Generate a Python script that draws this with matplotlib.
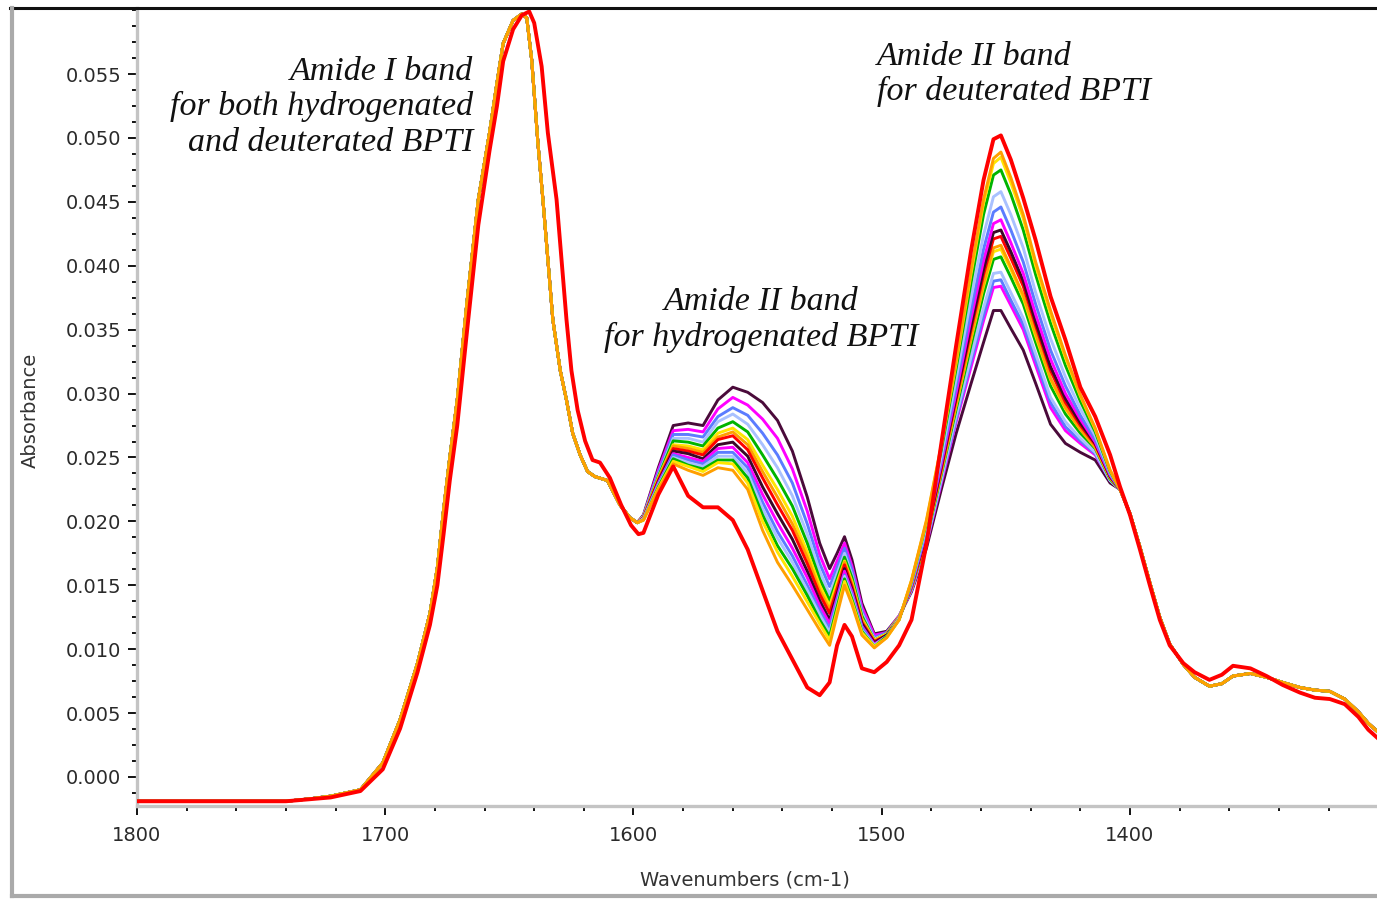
import matplotlib
matplotlib.use("Agg")
import matplotlib.pyplot as plt
from matplotlib.lines import Line2D
from matplotlib.ticker import MultipleLocator, FixedLocator, FormatStrFormatter

# ---------------------------------------------------------------- data
# Amide I region (1800-1598 cm-1): all exchange scans overlap here
wn_high = [1800, 1760, 1740, 1730, 1722, 1710, 1701, 1694, 1687, 1682, 1679, 1676.5,
           1674, 1671, 1667, 1662.5, 1658, 1655, 1652.5, 1648.5, 1645, 1643, 1641,
           1639.5, 1638.5, 1636.5, 1634.5, 1632.5, 1629.5, 1627, 1624.5, 1621.5,
           1618.5, 1615.5, 1610.5, 1605.5, 1601.5, 1598.5]
abs_high_common = [-0.0019, -0.0019, -0.0019, -0.0017, -0.0015, -0.0010, 0.0011, 0.0045,
                   0.0089, 0.0128, 0.0164, 0.0209, 0.0250, 0.0295, 0.0373, 0.0452, 0.0504,
                   0.0543, 0.0574, 0.0592, 0.0597, 0.0594, 0.0561, 0.0522, 0.0496, 0.0452,
                   0.0405, 0.0358, 0.0318, 0.0295, 0.0269, 0.0252, 0.0239, 0.0235, 0.0232,
                   0.0213, 0.0203, 0.0199]

# final (deuterated) scan, amide I slightly shifted
wn_high_final = [1800, 1760, 1740, 1722, 1710, 1701, 1694, 1687, 1682, 1679, 1676.5, 1674,
                 1671, 1667, 1662.5, 1658, 1655, 1652.5, 1648.5, 1645, 1642, 1640, 1637,
                 1634.5, 1631, 1629, 1627, 1625, 1622.5, 1619.5, 1616.5, 1613.5, 1609.5,
                 1605, 1601, 1598]
abs_high_final = [-0.0019, -0.0019, -0.0019, -0.0016, -0.0011, 0.0006, 0.0038, 0.0082,
                  0.0119, 0.0150, 0.0190, 0.0232, 0.0275, 0.0350, 0.0432, 0.0490, 0.0525,
                  0.0560, 0.0585, 0.0596, 0.0599, 0.0590, 0.0556, 0.0504, 0.0452, 0.0405,
                  0.0358, 0.0318, 0.0287, 0.0263, 0.0248, 0.0246, 0.0234, 0.0213, 0.0197,
                  0.0190]

# Amide II / amide II' region (1596-1408 cm-1): scans separate here
wn_mid = [1596, 1590, 1584, 1578, 1572, 1566, 1560, 1554, 1548, 1542, 1536, 1530, 1525,
          1521, 1518, 1515, 1512, 1508, 1503, 1498, 1493, 1488, 1482, 1476, 1470, 1464,
          1459, 1455, 1452, 1448, 1443, 1438, 1432, 1426, 1420, 1414, 1408]

scan_01 = [0.0205, 0.0242, 0.0275, 0.0277, 0.0275, 0.0295, 0.0305, 0.0301, 0.0293, 0.0279,
           0.0255, 0.0219, 0.0183, 0.0163, 0.0175, 0.0188, 0.0170, 0.0136, 0.0112, 0.0114,
           0.0126, 0.0145, 0.0179, 0.0225, 0.0269, 0.0308, 0.0340, 0.0365, 0.0365, 0.0351,
           0.0334, 0.0308, 0.0276, 0.0261, 0.0254, 0.0248, 0.0230]
scan_02 = [0.0204, 0.0240, 0.0271, 0.0272, 0.0270, 0.0288, 0.0297, 0.0291, 0.0280, 0.0265,
           0.0241, 0.0208, 0.0174, 0.0155, 0.0169, 0.0183, 0.0165, 0.0133, 0.0111, 0.0113,
           0.0126, 0.0146, 0.0182, 0.0230, 0.0278, 0.0321, 0.0357, 0.0383, 0.0384, 0.0369,
           0.0350, 0.0322, 0.0289, 0.0271, 0.0261, 0.0252, 0.0232]
scan_03 = [0.0204, 0.0238, 0.0268, 0.0268, 0.0266, 0.0282, 0.0289, 0.0283, 0.0269, 0.0252,
           0.0230, 0.0198, 0.0167, 0.0149, 0.0164, 0.0179, 0.0162, 0.0130, 0.0109, 0.0113,
           0.0125, 0.0147, 0.0183, 0.0232, 0.0280, 0.0325, 0.0361, 0.0388, 0.0389, 0.0373,
           0.0354, 0.0326, 0.0293, 0.0274, 0.0263, 0.0253, 0.0232]
scan_04 = [0.0204, 0.0236, 0.0265, 0.0265, 0.0262, 0.0278, 0.0284, 0.0276, 0.0260, 0.0242,
           0.0220, 0.0190, 0.0161, 0.0143, 0.0159, 0.0175, 0.0158, 0.0128, 0.0108, 0.0112,
           0.0125, 0.0147, 0.0184, 0.0233, 0.0283, 0.0329, 0.0367, 0.0394, 0.0395, 0.0379,
           0.0359, 0.0331, 0.0297, 0.0278, 0.0265, 0.0254, 0.0232]
scan_05 = [0.0203, 0.0235, 0.0263, 0.0262, 0.0259, 0.0273, 0.0278, 0.0270, 0.0252, 0.0233,
           0.0212, 0.0183, 0.0155, 0.0138, 0.0155, 0.0172, 0.0156, 0.0126, 0.0107, 0.0112,
           0.0125, 0.0148, 0.0186, 0.0237, 0.0288, 0.0338, 0.0378, 0.0405, 0.0407, 0.0391,
           0.0370, 0.0340, 0.0306, 0.0284, 0.0269, 0.0257, 0.0233]
scan_06 = [0.0203, 0.0234, 0.0260, 0.0259, 0.0256, 0.0269, 0.0273, 0.0264, 0.0244, 0.0225,
           0.0204, 0.0176, 0.0150, 0.0134, 0.0152, 0.0169, 0.0153, 0.0124, 0.0107, 0.0112,
           0.0125, 0.0149, 0.0188, 0.0239, 0.0291, 0.0343, 0.0384, 0.0411, 0.0413, 0.0397,
           0.0375, 0.0345, 0.0311, 0.0288, 0.0272, 0.0258, 0.0234]
scan_07 = [0.0203, 0.0233, 0.0259, 0.0257, 0.0254, 0.0266, 0.0270, 0.0260, 0.0239, 0.0219,
           0.0198, 0.0172, 0.0146, 0.0131, 0.0149, 0.0168, 0.0151, 0.0123, 0.0106, 0.0111,
           0.0124, 0.0149, 0.0188, 0.0239, 0.0292, 0.0344, 0.0386, 0.0414, 0.0416, 0.0399,
           0.0377, 0.0347, 0.0312, 0.0289, 0.0272, 0.0258, 0.0234]
scan_08 = [0.0203, 0.0232, 0.0257, 0.0255, 0.0252, 0.0264, 0.0267, 0.0256, 0.0234, 0.0213,
           0.0193, 0.0167, 0.0143, 0.0128, 0.0147, 0.0166, 0.0149, 0.0121, 0.0106, 0.0111,
           0.0124, 0.0149, 0.0189, 0.0241, 0.0296, 0.0350, 0.0393, 0.0421, 0.0423, 0.0406,
           0.0384, 0.0353, 0.0318, 0.0293, 0.0275, 0.0260, 0.0235]
scan_09 = [0.0202, 0.0231, 0.0255, 0.0253, 0.0249, 0.0260, 0.0262, 0.0251, 0.0227, 0.0206,
           0.0186, 0.0161, 0.0138, 0.0123, 0.0143, 0.0163, 0.0147, 0.0120, 0.0105, 0.0111,
           0.0124, 0.0150, 0.0190, 0.0243, 0.0298, 0.0353, 0.0397, 0.0426, 0.0428, 0.0411,
           0.0388, 0.0356, 0.0321, 0.0296, 0.0277, 0.0261, 0.0235]
scan_10 = [0.0202, 0.0230, 0.0253, 0.0250, 0.0247, 0.0257, 0.0258, 0.0246, 0.0221, 0.0199,
           0.0179, 0.0156, 0.0134, 0.0120, 0.0140, 0.0161, 0.0145, 0.0118, 0.0104, 0.0110,
           0.0124, 0.0150, 0.0192, 0.0245, 0.0301, 0.0359, 0.0404, 0.0433, 0.0436, 0.0418,
           0.0394, 0.0362, 0.0327, 0.0300, 0.0280, 0.0262, 0.0236]
scan_11 = [0.0202, 0.0229, 0.0252, 0.0248, 0.0245, 0.0254, 0.0254, 0.0242, 0.0215, 0.0192,
           0.0173, 0.0150, 0.0130, 0.0116, 0.0138, 0.0158, 0.0143, 0.0117, 0.0103, 0.0110,
           0.0124, 0.0151, 0.0193, 0.0248, 0.0306, 0.0366, 0.0413, 0.0442, 0.0446, 0.0428,
           0.0403, 0.0370, 0.0334, 0.0306, 0.0283, 0.0264, 0.0237]
scan_12 = [0.0202, 0.0228, 0.0250, 0.0246, 0.0243, 0.0251, 0.0251, 0.0238, 0.0210, 0.0187,
           0.0168, 0.0146, 0.0127, 0.0113, 0.0135, 0.0157, 0.0141, 0.0115, 0.0103, 0.0110,
           0.0124, 0.0152, 0.0196, 0.0251, 0.0312, 0.0375, 0.0424, 0.0454, 0.0458, 0.0440,
           0.0414, 0.0379, 0.0343, 0.0313, 0.0288, 0.0267, 0.0238]
scan_13 = [0.0201, 0.0227, 0.0249, 0.0244, 0.0241, 0.0248, 0.0248, 0.0234, 0.0205, 0.0181,
           0.0163, 0.0142, 0.0123, 0.0110, 0.0133, 0.0155, 0.0139, 0.0114, 0.0102, 0.0110,
           0.0123, 0.0153, 0.0199, 0.0256, 0.0320, 0.0387, 0.0440, 0.0471, 0.0475, 0.0456,
           0.0428, 0.0393, 0.0355, 0.0322, 0.0294, 0.0270, 0.0239]
scan_14 = [0.0201, 0.0226, 0.0247, 0.0243, 0.0239, 0.0246, 0.0245, 0.0230, 0.0200, 0.0176,
           0.0157, 0.0137, 0.0120, 0.0107, 0.0130, 0.0153, 0.0137, 0.0113, 0.0102, 0.0109,
           0.0123, 0.0154, 0.0200, 0.0259, 0.0324, 0.0394, 0.0449, 0.0480, 0.0485, 0.0465,
           0.0437, 0.0400, 0.0362, 0.0328, 0.0298, 0.0272, 0.0240]
scan_15 = [0.0201, 0.0225, 0.0245, 0.0240, 0.0236, 0.0242, 0.0240, 0.0225, 0.0193, 0.0168,
           0.0150, 0.0131, 0.0115, 0.0103, 0.0127, 0.0150, 0.0135, 0.0111, 0.0101, 0.0109,
           0.0123, 0.0154, 0.0201, 0.0260, 0.0326, 0.0397, 0.0452, 0.0484, 0.0489, 0.0469,
           0.0440, 0.0403, 0.0365, 0.0330, 0.0299, 0.0273, 0.0240]
scan_final = [0.0191, 0.0221, 0.0243, 0.0220, 0.0211, 0.0211, 0.0201, 0.0178, 0.0146, 0.0114,
              0.0092, 0.0070, 0.0064, 0.0074, 0.0103, 0.0119, 0.0110, 0.0085, 0.0082, 0.0090,
              0.0103, 0.0123, 0.0182, 0.0261, 0.0338, 0.0412, 0.0467, 0.0499, 0.0502, 0.0483,
              0.0453, 0.0420, 0.0376, 0.0342, 0.0305, 0.0282, 0.0252]

# Low-wavenumber tail (1404-1300 cm-1)
wn_low = [1404, 1400, 1396, 1392, 1388, 1384, 1378.5, 1374, 1368, 1363, 1358.5, 1351.5,
          1345, 1338.5, 1331.5, 1325.5, 1319.5, 1313.5, 1308, 1304, 1300]
abs_low_common = [0.0225, 0.0206, 0.0180, 0.0152, 0.0125, 0.0104, 0.0088, 0.0078, 0.0071,
                  0.0073, 0.0079, 0.0081, 0.0078, 0.0074, 0.0070, 0.0068, 0.0067, 0.0061,
                  0.0051, 0.0042, 0.0035]
abs_low_final = [0.0227, 0.0205, 0.0178, 0.0150, 0.0123, 0.0103, 0.0089, 0.0082, 0.0076,
                 0.0080, 0.0087, 0.0085, 0.0079, 0.0072, 0.0066, 0.0062, 0.0061, 0.0057,
                 0.0047, 0.0037, 0.0030]

scan_colors = ["#4a0a3a", "#ff00ff", "#5b7cff", "#a9c1ff", "#00b400", "#ffe600",
               "#ff9f00", "#ff0000", "#3a0828", "#ff00ff", "#5b7cff", "#a9c1ff",
               "#00b400", "#ffe600", "#ff9f00"]
final_color = "#ff0000"

x_ticks = [1800, 1700, 1600, 1500, 1400]
y_ticks = [0.000, 0.005, 0.010, 0.015, 0.020, 0.025, 0.030, 0.035, 0.040, 0.045, 0.050, 0.055]

# ---------------------------------------------------------------- figure
W, H = 1377, 899
fig = plt.figure(figsize=(W / 100, H / 100), dpi=100)
fig.patch.set_facecolor("white")

def fx(px):
    return px / W

def fy(py):
    return 1 - py / H

ax = fig.add_axes([fx(137), fy(806), fx(W - 137), (806 - 8) / H])

scans = [scan_01, scan_02, scan_03, scan_04, scan_05, scan_06, scan_07, scan_08,
         scan_09, scan_10, scan_11, scan_12, scan_13, scan_14, scan_15]
for i, (mid, col) in enumerate(zip(scans, scan_colors)):
    ax.plot(wn_high + wn_mid + wn_low, abs_high_common + mid + abs_low_common,
            color=col, lw=2.1, solid_joinstyle="round", zorder=2 + i)
ax.plot(wn_high_final + wn_mid + wn_low, abs_high_final + scan_final + abs_low_final,
        color=final_color, lw=2.8, solid_joinstyle="round", zorder=20)

ax.set_xlim(1800, 1300.5)
ax.set_ylim(-0.00227, 0.06017)

ax.xaxis.set_major_locator(FixedLocator(x_ticks))
ax.xaxis.set_minor_locator(MultipleLocator(20))
ax.yaxis.set_major_locator(FixedLocator(y_ticks))
ax.yaxis.set_minor_locator(MultipleLocator(0.00125))
ax.xaxis.set_major_formatter(FormatStrFormatter("%d"))
ax.yaxis.set_major_formatter(FormatStrFormatter("%.3f"))

for side in ("top", "right"):
    ax.spines[side].set_visible(False)
for side in ("left", "bottom"):
    ax.spines[side].set_color("#c4c4c4")
    ax.spines[side].set_linewidth(2.4)

ax.tick_params(axis="both", which="major", direction="out", length=6.5, width=1.3,
               color="black", labelsize=14, labelcolor="#2a2a2a")
ax.tick_params(axis="both", which="minor", direction="out", length=3.5, width=1.3,
               color="black")
ax.tick_params(axis="y", which="major", pad=5)
ax.tick_params(axis="x", which="major", pad=8)

# axis titles
fig.text(fx(30), fy(410), "Absorbance", rotation=90, ha="center", va="center",
         fontsize=14, color="#333333")
fig.text(fx(745), fy(880), "Wavenumbers (cm-1)", ha="center", va="center",
         fontsize=14, color="#333333")

# band annotations
note_style = dict(family="Liberation Serif", style="italic", fontsize=24.5, color="#111111",
                  va="baseline")
for text, base in [("Amide I band", 80), ("for both hydrogenated", 115),
                   ("and deuterated BPTI", 151)]:
    fig.text(fx(473), fy(base), text, ha="right", **note_style)
for text, base in [("Amide II band", 310), ("for hydrogenated BPTI", 346)]:
    fig.text(fx(761), fy(base), text, ha="center", **note_style)
for text, base in [("Amide II band", 65), ("for deuterated BPTI", 100)]:
    fig.text(fx(877), fy(base), text, ha="left", **note_style)

# window frame
fig.add_artist(Line2D([fx(10), 1.0], [fy(8), fy(8)], color="#111111", lw=2.2))
fig.add_artist(Line2D([fx(12), fx(12)], [fy(8), fy(896)], color="#aaaaaa", lw=3))
fig.add_artist(Line2D([fx(12), 1.0], [fy(896), fy(896)], color="#aaaaaa", lw=3))

fig.savefig("out.png", dpi=100)
